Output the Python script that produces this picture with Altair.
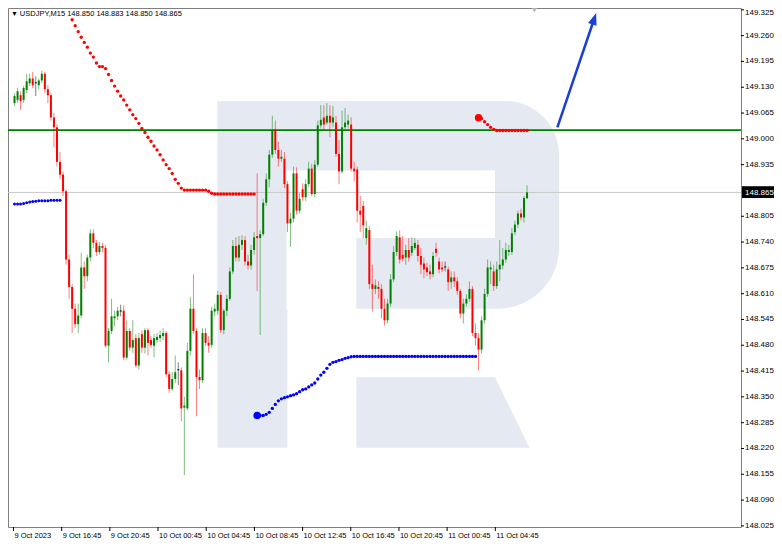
import altair as alt
import pandas as pd

# ---------------- data (USDJPY M15) ----------------
opens = [149.090, 149.098, 149.110, 149.098, 149.123, 149.140, 149.152, 149.140, 149.135, 149.147,
         149.164, 149.125, 149.110, 149.054, 149.029, 148.942, 148.910, 148.868, 148.696, 148.627,
         148.572, 148.533, 148.555, 148.676, 148.654, 148.701, 148.762, 148.738, 148.715, 148.730,
         148.725, 148.479, 148.516, 148.548, 148.553, 148.565, 148.567, 148.449, 148.516, 148.474,
         148.498, 148.429, 148.508, 148.474, 148.518, 148.493, 148.479, 148.493, 148.498, 148.503,
         148.511, 148.407, 148.370, 148.395, 148.417, 148.417, 148.323, 148.321, 148.466, 148.572,
         148.516, 148.400, 148.392, 148.511, 148.486, 148.481, 148.565, 148.567, 148.607, 148.518,
         148.567, 148.597, 148.666, 148.730, 148.701, 148.733, 148.745, 148.691, 148.681, 148.720,
         148.755, 148.750, 148.760, 148.839, 148.898, 148.960, 149.024, 148.972, 148.950, 148.950,
         148.886, 148.787, 148.799, 148.913, 148.819, 148.873, 148.853, 148.886, 148.925, 148.861,
         148.935, 149.034, 149.054, 149.041, 149.058, 149.041, 149.041, 148.962, 148.918, 149.029,
         149.036, 149.036, 148.925, 148.923, 148.819, 148.831, 148.750, 148.770, 148.634, 148.622,
         148.627, 148.622, 148.572, 148.543, 148.585, 148.646, 148.715, 148.752, 148.708, 148.701,
         148.720, 148.713, 148.725, 148.733, 148.705, 148.686, 148.676, 148.666, 148.659, 148.723,
         148.691, 148.676, 148.676, 148.671, 148.639, 148.651, 148.641, 148.617, 148.560, 148.585,
         148.597, 148.622, 148.511, 148.498, 148.469, 148.543, 148.609, 148.671, 148.666, 148.629,
         148.671, 148.681, 148.696, 148.715, 148.715, 148.765, 148.784, 148.812, 148.802, 148.850]
highs = [149.115, 149.128, 149.120, 149.133, 149.164, 149.164, 149.169, 149.157, 149.152, 149.172,
         149.169, 149.135, 149.115, 149.066, 149.036, 148.967, 148.918, 148.873, 148.708, 148.634,
         148.585, 148.585, 148.713, 148.691, 148.708, 148.772, 148.772, 148.745, 148.740, 148.738,
         148.733, 148.523, 148.597, 148.567, 148.577, 148.582, 148.580, 148.543, 148.523, 148.543,
         148.508, 148.511, 148.518, 148.523, 148.523, 148.503, 148.508, 148.511, 148.518, 148.523,
         148.516, 148.414, 148.412, 148.454, 148.437, 148.424, 148.350, 148.486, 148.602, 148.659,
         148.523, 148.419, 148.523, 148.523, 148.503, 148.577, 148.585, 148.617, 148.614, 148.572,
         148.607, 148.676, 148.745, 148.752, 148.755, 148.757, 148.755, 148.708, 148.733, 148.765,
         148.913, 148.770, 148.849, 148.913, 148.972, 149.058, 149.046, 148.992, 148.972, 148.967,
         148.893, 148.814, 148.930, 148.928, 148.863, 148.888, 148.898, 148.942, 148.937, 148.947,
         149.046, 149.085, 149.085, 149.090, 149.085, 149.083, 149.058, 148.997, 149.071, 149.078,
         149.061, 149.054, 148.942, 148.930, 148.856, 148.844, 148.794, 148.780, 148.683, 148.646,
         148.641, 148.634, 148.597, 148.597, 148.659, 148.730, 148.767, 148.770, 148.755, 148.733,
         148.750, 148.752, 148.750, 148.745, 148.725, 148.701, 148.688, 148.683, 148.715, 148.738,
         148.701, 148.691, 148.691, 148.678, 148.666, 148.666, 148.651, 148.622, 148.597, 148.609,
         148.641, 148.629, 148.535, 148.511, 148.553, 148.622, 148.696, 148.691, 148.683, 148.691,
         148.745, 148.725, 148.738, 148.733, 148.775, 148.794, 148.819, 148.824, 148.856, 148.883]
lows = [149.083, 149.090, 149.073, 149.090, 149.115, 149.133, 149.128, 149.108, 149.125, 149.140,
        149.115, 149.090, 149.046, 148.979, 148.930, 148.898, 148.856, 148.683, 148.597, 148.511,
        148.523, 148.511, 148.548, 148.622, 148.641, 148.691, 148.725, 148.705, 148.708, 148.715,
        148.474, 148.437, 148.508, 148.528, 148.543, 148.553, 148.442, 148.444, 148.466, 148.461,
        148.424, 148.419, 148.461, 148.459, 148.454, 148.474, 148.449, 148.486, 148.488, 148.493,
        148.400, 148.360, 148.365, 148.385, 148.380, 148.289, 148.153, 148.316, 148.454, 148.508,
        148.301, 148.370, 148.385, 148.479, 148.461, 148.474, 148.553, 148.557, 148.511, 148.508,
        148.553, 148.592, 148.659, 148.691, 148.691, 148.720, 148.681, 148.671, 148.671, 148.708,
        148.617, 148.506, 148.755, 148.831, 148.878, 148.952, 148.962, 148.930, 148.942, 148.876,
        148.765, 148.728, 148.789, 148.809, 148.812, 148.844, 148.844, 148.878, 148.856, 148.853,
        148.930, 149.026, 149.021, 149.036, 149.004, 149.029, 148.955, 148.886, 148.913, 149.021,
        149.026, 148.918, 148.893, 148.789, 148.765, 148.750, 148.733, 148.622, 148.565, 148.609,
        148.597, 148.548, 148.530, 148.535, 148.577, 148.639, 148.705, 148.686, 148.691, 148.683,
        148.691, 148.705, 148.720, 148.691, 148.659, 148.649, 148.654, 148.646, 148.651, 148.703,
        148.661, 148.664, 148.666, 148.617, 148.622, 148.627, 148.607, 148.548, 148.535, 148.577,
        148.590, 148.503, 148.479, 148.417, 148.459, 148.535, 148.602, 148.634, 148.617, 148.622,
        148.641, 148.671, 148.688, 148.705, 148.708, 148.757, 148.775, 148.794, 148.789, 148.850]
closes = [149.108, 149.120, 149.095, 149.128, 149.145, 149.152, 149.135, 149.140, 149.147, 149.164,
          149.125, 149.110, 149.054, 149.029, 148.942, 148.910, 148.868, 148.696, 148.627, 148.572,
          148.533, 148.555, 148.676, 148.654, 148.701, 148.762, 148.738, 148.715, 148.730, 148.725,
          148.479, 148.516, 148.553, 148.553, 148.567, 148.565, 148.449, 148.516, 148.474, 148.493,
          148.429, 148.498, 148.474, 148.518, 148.486, 148.481, 148.498, 148.501, 148.506, 148.511,
          148.407, 148.370, 148.395, 148.412, 148.417, 148.321, 148.328, 148.466, 148.572, 148.516,
          148.400, 148.392, 148.511, 148.486, 148.479, 148.567, 148.572, 148.607, 148.518, 148.567,
          148.597, 148.666, 148.730, 148.701, 148.733, 148.745, 148.691, 148.681, 148.720, 148.752,
          148.750, 148.760, 148.839, 148.898, 148.960, 149.021, 148.972, 148.950, 148.955, 148.886,
          148.787, 148.799, 148.913, 148.819, 148.849, 148.853, 148.886, 148.925, 148.861, 148.935,
          149.034, 149.048, 149.036, 149.058, 149.041, 149.054, 148.962, 148.918, 149.029, 149.041,
          149.046, 148.925, 148.918, 148.819, 148.809, 148.782, 148.775, 148.634, 148.622, 148.631,
          148.622, 148.572, 148.543, 148.585, 148.646, 148.715, 148.755, 148.696, 148.698, 148.720,
          148.701, 148.730, 148.738, 148.705, 148.683, 148.671, 148.664, 148.659, 148.705, 148.713,
          148.671, 148.671, 148.676, 148.639, 148.651, 148.641, 148.617, 148.560, 148.585, 148.597,
          148.622, 148.511, 148.498, 148.469, 148.543, 148.609, 148.676, 148.676, 148.629, 148.671,
          148.683, 148.696, 148.720, 148.720, 148.762, 148.784, 148.812, 148.802, 148.851, 148.865]

# Parabolic SAR dots (first bar index + values)
red_a_start = 19
red_a = [149.300, 149.285, 149.270, 149.256, 149.243, 149.231, 149.216, 149.206, 149.191, 149.182,
         149.182, 149.177, 149.162, 149.147, 149.133, 149.120, 149.108, 149.098, 149.085, 149.073,
         149.061, 149.051, 149.039, 149.026, 149.016, 149.004, 148.994, 148.982, 148.972, 148.960,
         148.947, 148.935, 148.925, 148.913, 148.898, 148.888, 148.876, 148.871, 148.871, 148.871,
         148.871, 148.871, 148.871, 148.871, 148.871, 148.868, 148.863, 148.861, 148.861, 148.861,
         148.861, 148.861, 148.861, 148.861, 148.861, 148.861, 148.861, 148.861, 148.861, 148.861,
         148.861]
blue_a_start = 0
blue_a = [148.836, 148.836, 148.836, 148.837, 148.839, 148.841, 148.842, 148.843, 148.844, 148.844,
          148.844, 148.844, 148.845, 148.845, 148.845, 148.845]
blue_b_start = 80
blue_b = [148.303, 148.303, 148.303, 148.306, 148.311, 148.321, 148.331, 148.340, 148.345, 148.348,
          148.350, 148.353, 148.355, 148.358, 148.363, 148.368, 148.370, 148.375, 148.380, 148.385,
          148.395, 148.405, 148.412, 148.422, 148.432, 148.437, 148.439, 148.442, 148.444, 148.447,
          148.449, 148.451] + [148.452] * 41
red_b_start = 153
red_b = [149.053, 149.051, 149.043, 149.036, 149.029, 149.024, 149.021, 149.021, 149.021, 149.021,
         149.021, 149.021, 149.021, 149.021, 149.021, 149.021, 149.021]

level_price = [149.022]
bid_price = [148.865]

arrow_bar = [179.0, 191.8]
arrow_price = [149.029, 149.317]

tick_bars = [-0.34, 15.55, 31.44, 47.32, 63.21, 79.10, 94.99, 110.88, 126.76, 142.65, 158.54]
tick_labels = ["9 Oct 2023", "9 Oct 16:45", "9 Oct 20:45", "10 Oct 00:45", "10 Oct 04:45",
               "10 Oct 08:45", "10 Oct 12:45", "10 Oct 16:45", "10 Oct 20:45", "11 Oct 00:45",
               "11 Oct 04:45"]
price_ticks = [149.325, 149.260, 149.195, 149.130, 149.065, 149.000, 148.935, 148.805, 148.740,
               148.675, 148.610, 148.545, 148.480, 148.415, 148.350, 148.285, 148.220, 148.155,
               148.090, 148.025]
title_text = "USDJPY,M15  148.850 148.883 148.850 148.865"
bid_text = "148.865"

# ---------------- layout ----------------
FONT = "Liberation Sans"
W, H = 733, 519            # plot area
PAD_R, PAD_B = 33, 14      # room for price and time labels
SX = W / 745.0             # reference plot was 745 x 530 px
SY = H / 530.0


def fx(px):   # reference-picture x -> plot x
    return (px - 2) * SX


def fy(py):   # reference-picture y -> plot y
    return (py - 3) * SY


candles = pd.DataFrame({"bar": list(range(len(opens))), "open": opens, "high": highs,
                        "low": lows, "close": closes})


def dots(start, vals):
    return pd.DataFrame({"bar": list(range(start, start + len(vals))), "p": vals})


one = pd.DataFrame({"k": [0]})

xs = alt.Scale(domain=[-0.5, 237.9], nice=False, zero=False)
ys = alt.Scale(domain=[148.0222, 149.3296], nice=False, zero=False)

WM = "#e5eaf2"


def box(x1, x2, y1, y2, color, **kw):
    return alt.Chart(one).mark_rect(color=color, **kw).encode(
        x=alt.value(fx(x1)), x2=alt.value(fx(x2)), y=alt.value(fy(y1)), y2=alt.value(fy(y2)))


# watermark "R" (decoration)
wm_bowl = box(215, 562, 98, 310, WM, cornerRadiusTopRight=54, cornerRadiusBottomRight=61)
wm_stem = box(215, 286, 98, 452, WM)
wm_hole = box(285, 497, 169, 238, "#ffffff")
wm_notch = box(285, 356, 237, 311, "#ffffff")
leg_path = "M0,0L{a:.3f},0L{b:.3f},{h:.3f}L0,{h:.3f}Z".format(
    a=(497 - 356) * SX / 100, b=(532 - 356) * SX / 100, h=(452 - 380) * SY / 100)
wm_leg = alt.Chart(one).mark_point(shape=leg_path, size=40000, filled=True, color=WM,
                                   opacity=1, strokeWidth=0).encode(
    x=alt.value(fx(356)), y=alt.value(fy(380)))

bid_line = alt.Chart(pd.DataFrame({"p": bid_price})).mark_rule(
    color="#c8c8c8", strokeWidth=1).encode(
    y=alt.Y("p:Q", scale=ys, axis=None), x=alt.value(0), x2=alt.value(W))
level_line = alt.Chart(pd.DataFrame({"p": level_price})).mark_rule(
    color="#008000", strokeWidth=1.6).encode(
    y=alt.Y("p:Q", scale=ys, axis=None), x=alt.value(0), x2=alt.value(W))

dir_expr = "datum.close > datum.open ? 'up' : (datum.close < datum.open ? 'down' : 'flat')"
cscale = alt.Scale(domain=["up", "down", "flat"], range=["#008000", "#ff0000", "#000000"])

wicks = alt.Chart(candles).transform_calculate(dir=dir_expr).mark_rule(
    strokeWidth=1, opacity=0.5).encode(
    x=alt.X("bar:Q", scale=xs, axis=None),
    y=alt.Y("low:Q", scale=ys, axis=None),
    y2="high:Q",
    color=alt.Color("dir:N", scale=cscale, legend=None))

bodies = alt.Chart(candles).transform_calculate(
    dir=dir_expr,
    c2="datum.close == datum.open ? datum.open + 0.0025 : datum.close").mark_bar(size=2).encode(
    x=alt.X("bar:Q", scale=xs, axis=None),
    y=alt.Y("open:Q", scale=ys, axis=None),
    y2="c2:Q",
    color=alt.Color("dir:N", scale=cscale, legend=None))


def dot_layer(df, color, size=11):
    return alt.Chart(df).mark_circle(color=color, size=size, opacity=1).encode(
        x=alt.X("bar:Q", scale=xs, axis=None), y=alt.Y("p:Q", scale=ys, axis=None))


red_a_df = dots(red_a_start, red_a)
blue_a_df = dots(blue_a_start, blue_a)
blue_b_df = dots(blue_b_start, blue_b)
red_b_df = dots(red_b_start, red_b)

red_dots = dot_layer(red_a_df, "#ff0000")
blue_dots_a = dot_layer(blue_a_df, "#0000ff", 9)
blue_dots_b = dot_layer(blue_b_df, "#0000ff")
red_dots_b = dot_layer(red_b_df, "#ff0000")
blue_big = dot_layer(blue_b_df.head(1), "#0000ff", 55)
red_big = dot_layer(red_b_df.head(1), "#ff0000", 55)

arrow_df = pd.DataFrame({"x1": [arrow_bar[0]], "x2": [arrow_bar[1]],
                         "y1": [arrow_price[0]], "y2": [arrow_price[1]]})
ARROW = "#1a3fd6"
arrow_line = alt.Chart(arrow_df).transform_calculate(
    xe="datum.x1 + (datum.x2 - datum.x1) * 0.93",
    ye="datum.y1 + (datum.y2 - datum.y1) * 0.93").mark_rule(
    color=ARROW, strokeWidth=2.5).encode(
    x=alt.X("x1:Q", scale=xs, axis=None), x2="xe:Q",
    y=alt.Y("y1:Q", scale=ys, axis=None), y2="ye:Q")
arrow_head = alt.Chart(arrow_df).mark_point(
    shape="M0,0L-0.85,2.3L0.85,2.3Z", filled=True, color=ARROW, opacity=1, angle=19,
    size=110).encode(
    x=alt.X("x2:Q", scale=xs, axis=None), y=alt.Y("y2:Q", scale=ys, axis=None))

# ---- price axis (right) drawn through the y scale ----
pt_df = pd.DataFrame({"p": price_ticks})
y_ticks = alt.Chart(pt_df).mark_rule(color="#000000", strokeWidth=1).encode(
    y=alt.Y("p:Q", scale=ys, axis=None), x=alt.value(W), x2=alt.value(W + 3))
y_labels = alt.Chart(pt_df.iloc[1:]).mark_text(
    font=FONT, fontSize=8, color="#000000", align="left", baseline="middle").encode(
    y=alt.Y("p:Q", scale=ys, axis=None), x=alt.value(W + 4),
    text=alt.Text("p:Q", format=".3f"))
y_label_top = alt.Chart(pt_df.iloc[:1]).mark_text(
    font=FONT, fontSize=8, color="#000000", align="left", baseline="middle", dy=3).encode(
    y=alt.Y("p:Q", scale=ys, axis=None), x=alt.value(W + 4),
    text=alt.Text("p:Q", format=".3f"))

# ---- time axis (bottom) drawn through the x scale ----
tt_df = pd.DataFrame({"b": tick_bars, "lab": tick_labels})
x_ticks = alt.Chart(tt_df).mark_rule(color="#000000", strokeWidth=1).encode(
    x=alt.X("b:Q", scale=xs, axis=None), y=alt.value(H), y2=alt.value(H + 4))
x_labels = alt.Chart(tt_df).mark_text(font=FONT, fontSize=7.5, color="#000000", align="left",
                                      baseline="middle", dx=1).encode(
    x=alt.X("b:Q", scale=xs, axis=None), y=alt.value(H + 9), text="lab:N")

title_tri = alt.Chart(one).mark_text(text="▼", font=FONT, fontSize=7, color="#000000",
                                     align="left", baseline="middle").encode(
    x=alt.value(fx(5)), y=alt.value(fy(9)))
title_txt = alt.Chart(one).mark_text(text=title_text, font=FONT, fontSize=7.5, color="#000000",
                                     align="left", baseline="middle").encode(
    x=alt.value(fx(14)), y=alt.value(fy(9)))

price_box = alt.Chart(one).mark_rect(color="#000000").encode(
    x=alt.value(W + 1), x2=alt.value(W + PAD_R), y=alt.value(fy(185)), y2=alt.value(fy(197)))
price_txt = alt.Chart(one).mark_text(text=bid_text, font=FONT, fontSize=8, color="#ffffff",
                                     align="left", baseline="middle").encode(
    x=alt.value(W + 4), y=alt.value(fy(191.5)))

shift_mark = alt.Chart(one).mark_point(shape="triangle-down", filled=True, color="#b4b4b4",
                                       size=35, opacity=1).encode(
    x=alt.value(fx(537)), y=alt.value(2))

chart = alt.layer(
    wm_bowl, wm_stem, wm_hole, wm_notch, wm_leg,
    bid_line, level_line,
    wicks, bodies,
    red_dots, blue_dots_a, blue_dots_b, red_dots_b, blue_big, red_big,
    arrow_line, arrow_head,
    y_ticks, y_labels, y_label_top, x_ticks, x_labels,
    title_tri, title_txt, price_box, price_txt, shift_mark,
).properties(
    width=W, height=H,
    autosize=alt.AutoSizeParams(type="none"),
    padding={"left": 0, "top": 0, "right": PAD_R, "bottom": PAD_B},
    background="#ffffff",
).configure_view(stroke="#808080", strokeWidth=1)

chart.save("out.html", embed_options={"renderer": "svg", "actions": False})
